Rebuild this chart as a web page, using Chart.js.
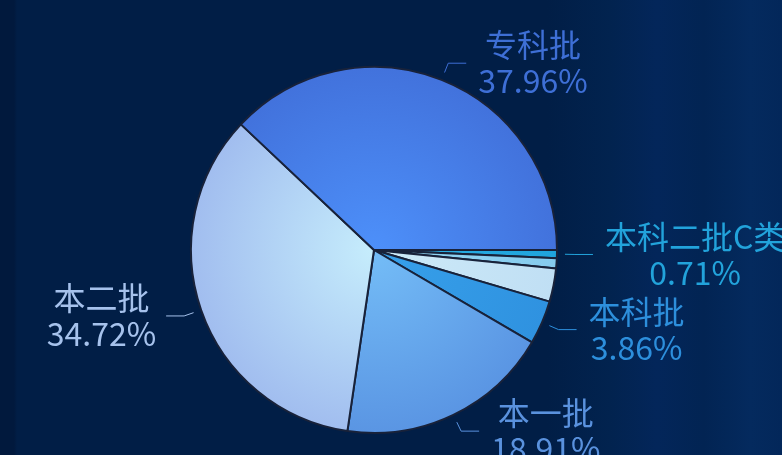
<!DOCTYPE html>
<html>
<head>
<meta charset="utf-8">
<script src="https://cdn.jsdelivr.net/npm/chart.js@4.4.1/dist/chart.umd.min.js"></script>
<style>
  html, body { margin: 0; padding: 0; }
  body {
    width: 782px; height: 455px; overflow: hidden;
    background: linear-gradient(90deg, #01193d 0, #01193d 14px, #011e46 17px, #011e46 70%, #02234f 78%, #03265a 84%, #022453 90%, #042a5e 96%, #03275a 100%);
  }
  canvas { display: block; }
</style>
</head>
<body>
<canvas id="pie" width="782" height="455"></canvas>
<script>
// slices, clockwise from 3 o'clock
const categories = ["本科二批C类", "本科二批A类", "本科二批B类", "本科批", "本一批", "本二批", "专科批"];
const shares = [0.71, 0.90, 2.94, 3.86, 18.91, 34.72, 37.96];
const showLabel = [true, false, false, true, true, true, true];

const innerColors = ["#2bb1e5", "#94d8f4", "#cdeaf8", "#37a0ea", "#74bdf7", "#c6edfc", "#4d90fa"];
const outerColors = ["#1fa3dc", "#86cbee", "#c0dff4", "#2f92e0", "#5a95e3", "#a1bdef", "#4272dc"];
const labelColors = ["#22a3db", "#86cbee", "#c0dff4", "#2d8fdc", "#5a92de", "#a6c2ec", "#3e6fd6"];

const FONT = '32px "Noto Sans CJK SC", "Noto Sans", sans-serif';

function sliceFill(c) {
  const i = c.dataIndex;
  const area = c.chart.chartArea;
  if (!area) return outerColors[i];
  const cx = (area.left + area.right) / 2;
  const cy = (area.top + area.bottom) / 2;
  const r = Math.min(area.width, area.height) / 2;
  const g = c.chart.ctx.createRadialGradient(cx, cy, 0, cx, cy, r);
  g.addColorStop(0, innerColors[i]);
  g.addColorStop(1, outerColors[i]);
  return g;
}

const outsideLabels = {
  id: "outsideLabels",
  afterDatasetsDraw(chart) {
    const ctx = chart.ctx;
    const arcs = chart.getDatasetMeta(0).data;
    ctx.save();
    ctx.font = FONT;
    ctx.lineWidth = 1;
    arcs.forEach((arc, i) => {
      if (!showLabel[i]) return;
      const { x, y, startAngle, endAngle, outerRadius } = arc.getProps(["x", "y", "startAngle", "endAngle", "outerRadius"], true);
      const mid = (startAngle + endAngle) / 2;
      const cos = Math.cos(mid), sin = Math.sin(mid);
      const right = cos >= 0;
      const x0 = x + (outerRadius + 8) * cos, y0 = y + (outerRadius + 8) * sin;
      const x1 = x + (outerRadius + 18) * cos, y1 = y + (outerRadius + 18) * sin;
      const x2 = x1 + (right ? 18 : -18);

      ctx.strokeStyle = labelColors[i];
      ctx.beginPath();
      ctx.moveTo(x0, y0);
      ctx.lineTo(x1, y1);
      ctx.lineTo(x2, y1);
      ctx.stroke();

      const lines = [categories[i], shares[i].toFixed(2) + "%"];
      const w = Math.max(...lines.map(t => ctx.measureText(t).width));
      const left = right ? x2 + 12 : x2 - 10 - w;
      const center = left + w / 2;
      ctx.fillStyle = labelColors[i];
      ctx.textAlign = "center";
      ctx.textBaseline = "middle";
      ctx.fillText(lines[0], center, y1 - 18);
      ctx.fillText(lines[1], center, y1 + 18);
    });
    ctx.restore();
  },
};

new Chart(document.getElementById("pie"), {
  type: "pie",
  data: {
    labels: categories,
    datasets: [{
      data: shares,
      backgroundColor: sliceFill,
      borderColor: "#18223a",
      borderWidth: 2,
    }],
  },
  options: {
    responsive: false,
    animation: false,
    events: [],
    rotation: 90,
    layout: { padding: { top: 66, bottom: 21, left: 190, right: 224 } },
    plugins: {
      legend: { display: false },
      tooltip: { enabled: false },
    },
  },
  plugins: [outsideLabels],
});
</script>
</body>
</html>
